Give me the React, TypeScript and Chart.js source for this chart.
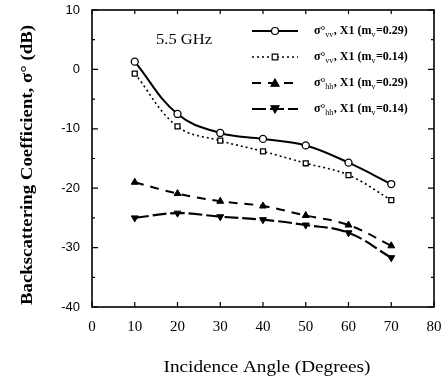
import React, { useEffect, useRef } from "react";
import { Chart, registerables } from "chart.js";

Chart.register(...registerables);

const angles = [10, 20, 30, 40, 50, 60, 70];
const vv029 = [1.3, -7.5, -10.7, -11.7, -12.8, -15.7, -19.3];
const vv014 = [-0.7, -9.6, -12.0, -13.8, -15.8, -17.8, -22.0];
const hh029 = [-19.0, -20.9, -22.2, -23.0, -24.6, -26.2, -29.7];
const hh014 = [-25.0, -24.2, -24.8, -25.3, -26.2, -27.5, -31.7];
const xTicks = [0, 10, 20, 30, 40, 50, 60, 70, 80];
const yTicks = [-40, -30, -20, -10, 0, 10];
const legendLabels = [
  ["σ°", "vv", ", X1 (m", "v", "=0.29)"],
  ["σ°", "vv", ", X1 (m", "v", "=0.14)"],
  ["σ°", "hh", ", X1 (m", "v", "=0.29)"],
  ["σ°", "hh", ", X1 (m", "v", "=0.14)"],
];
const freqLabel = "5.5 GHz";
const xTitle = "Incidence Angle (Degrees)";
const yTitle = "Backscattering Coefficient, σ° (dB)";

const SERIF = "'Liberation Serif', 'DejaVu Serif', serif";
const SANS = "'Liberation Sans', Arial, sans-serif";

function fitText(ctx: any, text: string, cx: number, cy: number, width: number) {
  const w = ctx.measureText(text).width;
  ctx.save();
  ctx.translate(cx, cy);
  ctx.scale(width / w, 1);
  ctx.fillText(text, 0, 0);
  ctx.restore();
}

const decorPlugin = {
  id: "decor",
  afterDraw(chart: any) {
    const ctx = chart.ctx;
    const area = chart.chartArea;
    const xs = chart.scales.x;
    const ys = chart.scales.y;
    ctx.save();
    ctx.strokeStyle = "#000";
    ctx.lineWidth = 1.6;
    ctx.setLineDash([]);
    ctx.strokeRect(area.left, area.top, area.right - area.left, area.bottom - area.top);
    ctx.lineWidth = 1.2;
    for (let v = 0; v <= 80; v += 10) {
      const px = xs.getPixelForValue(v);
      ctx.beginPath();
      ctx.moveTo(px, area.bottom);
      ctx.lineTo(px, area.bottom - 5);
      ctx.moveTo(px, area.top);
      ctx.lineTo(px, area.top + 4);
      ctx.stroke();
    }
    for (let v = -40; v <= 10; v += 5) {
      const py = ys.getPixelForValue(v);
      const len = v % 10 === 0 ? 6 : 3;
      ctx.beginPath();
      ctx.moveTo(area.left, py);
      ctx.lineTo(area.left + len, py);
      ctx.moveTo(area.right, py);
      ctx.lineTo(area.right - len, py);
      ctx.stroke();
    }
    ctx.fillStyle = "#000";
    ctx.font = `15px ${SERIF}`;
    ctx.textAlign = "center";
    ctx.textBaseline = "middle";
    fitText(ctx, freqLabel, 184, 40, 56);

    const rowsY = [31, 57, 83, 109];
    chart.data.datasets.forEach((ds: any, i: number) => {
      const y = rowsY[i];
      ctx.save();
      ctx.strokeStyle = "#000";
      ctx.lineWidth = ds.borderWidth;
      ctx.setLineDash(ds.borderDash || []);
      ctx.beginPath();
      ctx.moveTo(252, y);
      ctx.lineTo(298, y);
      ctx.stroke();
      ctx.setLineDash([]);
      ctx.lineWidth = 1.2;
      ctx.fillStyle = ds.pointBackgroundColor;
      ctx.strokeStyle = "#000";
      const m = 275;
      const r = ds.pointRadius;
      ctx.beginPath();
      if (ds.pointStyle === "circle") {
        ctx.arc(m, y, r, 0, Math.PI * 2);
      } else if (ds.pointStyle === "rect") {
        ctx.rect(m - r * 0.8, y - r * 0.8, r * 1.6, r * 1.6);
      } else if (ds.pointStyle === "triangle") {
        const s = ds.pointRotation === 180 ? -1 : 1;
        ctx.moveTo(m, y - s * r);
        ctx.lineTo(m - r, y + s * r * 0.8);
        ctx.lineTo(m + r, y + s * r * 0.8);
        ctx.closePath();
      }
      ctx.fill();
      ctx.stroke();
      ctx.restore();

      let tx = 314;
      ctx.textAlign = "left";
      ctx.textBaseline = "middle";
      ctx.fillStyle = "#000";
      legendLabels[i].forEach((part: string, k: number) => {
        const sub = k % 2 === 1;
        ctx.font = sub ? `8px ${SERIF}` : `bold 12px ${SERIF}`;
        ctx.fillText(part, tx, sub ? y + 4 : y);
        tx += ctx.measureText(part).width + (sub ? 0.5 : 0);
      });
    });

    ctx.textAlign = "center";
    ctx.textBaseline = "middle";
    ctx.font = `16px ${SERIF}`;
    fitText(ctx, xTitle, 267, 368, 207);
    ctx.save();
    ctx.translate(28, 165);
    ctx.rotate(-Math.PI / 2);
    ctx.font = `bold 16px ${SERIF}`;
    fitText(ctx, yTitle, 0, 0, 280);
    ctx.restore();
    ctx.restore();
  },
};

export default function App() {
  const ref = useRef<HTMLCanvasElement | null>(null);
  useEffect(() => {
    if (!ref.current) return;
    const chart = new Chart(ref.current, {
      type: "line",
      data: {
        datasets: [
          {
            label: "vv 0.29",
            data: angles.map((a, i) => ({ x: a, y: vv029[i] })),
            borderColor: "#000",
            borderWidth: 2,
            borderDash: [],
            pointStyle: "circle",
            pointRadius: 3.5,
            pointBackgroundColor: "#fff",
            pointBorderColor: "#000",
            pointBorderWidth: 1.3,
            tension: 0.4,
          },
          {
            label: "vv 0.14",
            data: angles.map((a, i) => ({ x: a, y: vv014[i] })),
            borderColor: "#000",
            borderWidth: 1.6,
            borderDash: [2, 3],
            pointStyle: "rect",
            pointRadius: 3.5,
            pointBackgroundColor: "#fff",
            pointBorderColor: "#000",
            pointBorderWidth: 1.3,
            tension: 0.4,
          },
          {
            label: "hh 0.29",
            data: angles.map((a, i) => ({ x: a, y: hh029[i] })),
            borderColor: "#000",
            borderWidth: 2,
            borderDash: [9, 7],
            pointStyle: "triangle",
            pointRadius: 4,
            pointBackgroundColor: "#000",
            pointBorderColor: "#000",
            pointBorderWidth: 1,
            tension: 0.4,
          },
          {
            label: "hh 0.14",
            data: angles.map((a, i) => ({ x: a, y: hh014[i] })),
            borderColor: "#000",
            borderWidth: 2.2,
            borderDash: [14, 4],
            pointStyle: "triangle",
            pointRotation: 180,
            pointRadius: 4,
            pointBackgroundColor: "#000",
            pointBorderColor: "#000",
            pointBorderWidth: 1,
            tension: 0.4,
          },
        ] as any,
      },
      options: {
        animation: false,
        responsive: false,
        maintainAspectRatio: false,
        layout: { padding: { top: 10, right: 14, left: 0, bottom: 0 } },
        plugins: { legend: { display: false }, tooltip: { enabled: false } },
        scales: {
          x: {
            type: "linear",
            min: 0,
            max: 80,
            afterBuildTicks: (s: any) => {
              s.ticks = xTicks.map((v) => ({ value: v }));
            },
            afterFit: (s: any) => {
              s.height = 78;
              s.paddingLeft = 0;
              s.paddingRight = 0;
            },
            grid: { display: false, drawTicks: false },
            border: { display: false },
            ticks: {
              color: "#000",
              padding: 11,
              font: { family: SERIF, size: 15 },
            },
          },
          y: {
            type: "linear",
            min: -40,
            max: 10,
            afterBuildTicks: (s: any) => {
              s.ticks = yTicks.map((v) => ({ value: v }));
            },
            afterFit: (s: any) => {
              s.width = 92;
              s.paddingTop = 0;
              s.paddingBottom = 0;
            },
            grid: { display: false, drawTicks: false },
            border: { display: false },
            ticks: {
              color: "#000",
              padding: 12,
              font: { family: SANS, size: 13 },
            },
          },
        },
      } as any,
      plugins: [decorPlugin],
    });
    return () => chart.destroy();
  }, []);
  return (
    <div style={{ position: "fixed", left: 0, top: 0, width: 448, height: 385, background: "#fff" }}>
      <canvas ref={ref} width={448} height={385} style={{ width: 448, height: 385 }} />
    </div>
  );
}
